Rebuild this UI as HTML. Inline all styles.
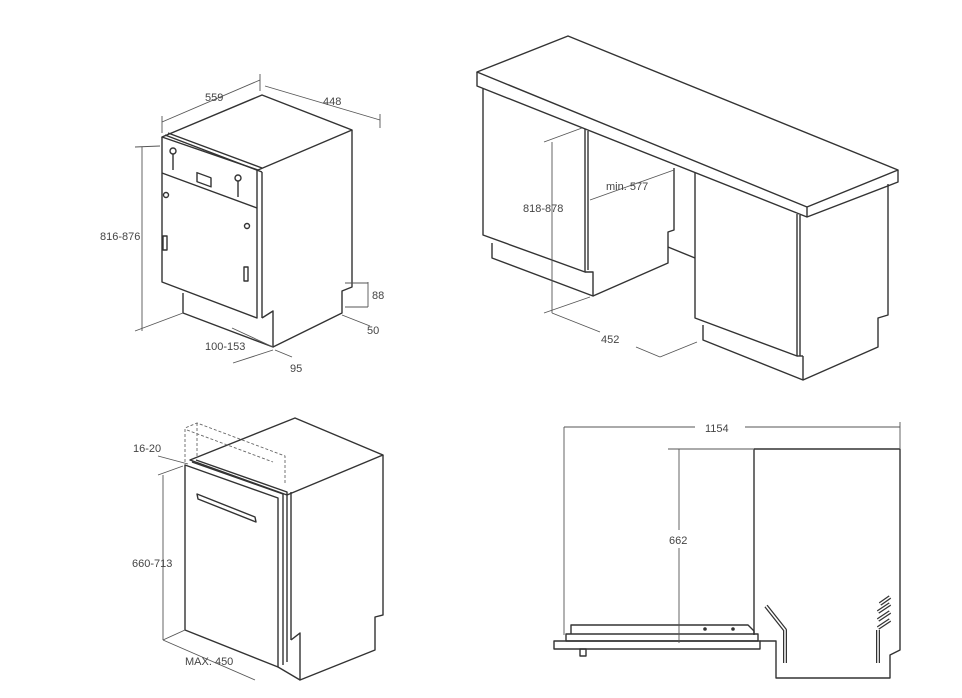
<!DOCTYPE html>
<html><head><meta charset="utf-8"><style>
html,body{margin:0;padding:0;background:#fff}
svg{display:block}
text{font-family:"Liberation Sans",sans-serif;font-size:11px;fill:#444}
</style></head><body>
<svg width="962" height="698" viewBox="0 0 962 698" xmlns="http://www.w3.org/2000/svg">
<g fill="none" stroke="#333" stroke-width="1.4" stroke-linejoin="round">
<!-- TOP LEFT dishwasher -->
<polygon points="162,137 262,95 352,130 258,170" fill="#fff"/>
<polyline points="162,137 162,282 257,318 257,170"/>
<line x1="262" y1="172" x2="262" y2="318"/>
<line x1="165" y1="135" x2="262" y2="172"/>
<line x1="168" y1="133" x2="262" y2="168"/>
<line x1="162" y1="173" x2="257" y2="208"/>
<polyline points="352,130 352,287 342,291 342,313 273,347"/>
<polyline points="183,293 183,313 273,347 273,311 262,318"/>
<circle cx="173" cy="151" r="3"/><line x1="173" y1="154" x2="173" y2="170"/>
<circle cx="238" cy="178" r="3"/><line x1="238" y1="181" x2="238" y2="197"/>
<rect x="197" y="173" width="14" height="9" transform="skewY(20) translate(0,-72)"/>
<circle cx="166" cy="195" r="2.5"/>
<circle cx="247" cy="226" r="2.5"/>
<rect x="163" y="236" width="4" height="14"/>
<rect x="244" y="267" width="4" height="14"/>
</g>
<g fill="none" stroke="#555" stroke-width="0.9">
<line x1="162" y1="122" x2="260" y2="80"/><line x1="162" y1="116" x2="162" y2="133"/><line x1="260" y1="74" x2="260" y2="91"/>
<line x1="265" y1="86" x2="380" y2="120"/><line x1="380" y1="114" x2="380" y2="128"/>
<line x1="142" y1="147" x2="142" y2="331"/><line x1="135" y1="147" x2="160" y2="146"/><line x1="135" y1="331" x2="183" y2="313"/>
<line x1="368" y1="282" x2="368" y2="307"/><line x1="345" y1="283" x2="368" y2="283"/><line x1="345" y1="307" x2="368" y2="307"/>
<line x1="342" y1="315" x2="370" y2="326"/>
<line x1="232" y1="328" x2="273" y2="347"/>
<line x1="233" y1="363" x2="273" y2="350"/><line x1="275" y1="350" x2="292" y2="357"/>
</g>
<text x="205" y="101">559</text>
<text x="323" y="105">448</text>
<text x="100" y="240">816-876</text>
<text x="372" y="299">88</text>
<text x="367" y="334">50</text>
<text x="205" y="350">100-153</text>
<text x="290" y="372">95</text>

<!-- TOP RIGHT counter -->
<g fill="none" stroke="#333" stroke-width="1.4" stroke-linejoin="round">
<polygon points="477,72 568,36 898,170 807,207" fill="#fff"/>
<polyline points="477,72 477,86 807,217 898,182 898,170"/>
<line x1="807" y1="207" x2="807" y2="217"/>
<polyline points="483,88 483,235 585,272 585,129"/>
<polyline points="492,243 492,258 593,296 593,272 585,272"/>
<line x1="588" y1="131" x2="588" y2="270"/>
<polyline points="674,168 674,230 668,232 668,263 593,296"/>
<line x1="668" y1="247" x2="695" y2="258"/>
<polyline points="695,173 695,318 797,356 797,214"/>
<line x1="800" y1="215" x2="800" y2="356"/>
<polyline points="703,325 703,340 803,380 878,347 878,318 888,315 888,184"/>
<line x1="797" y1="356" x2="803" y2="356"/><line x1="803" y1="356" x2="803" y2="380"/>
</g>
<g fill="none" stroke="#555" stroke-width="0.9">
<line x1="552" y1="142" x2="552" y2="313"/><line x1="544" y1="142" x2="582" y2="128"/><line x1="544" y1="313" x2="590" y2="297"/>
<line x1="590" y1="200" x2="674" y2="170"/>
<line x1="552" y1="313" x2="600" y2="332"/><line x1="636" y1="347" x2="660" y2="357"/>
<line x1="660" y1="357" x2="697" y2="342"/>
</g>
<text x="523" y="212">818-878</text>
<text x="606" y="190">min. 577</text>
<text x="601" y="343">452</text>

<!-- BOTTOM LEFT -->
<g fill="none" stroke="#333" stroke-width="1.4" stroke-linejoin="round">
<polygon points="190,460 295,418 383,455 287,495" fill="#fff"/>
<polygon points="185,465 278,498 278,667 185,630" fill="#fff"/>
<polyline points="192,462 283,494 283,665"/>
<polyline points="196,460 287,492 287,662"/>
<line x1="291" y1="492" x2="291" y2="640"/>
<polyline points="383,455 383,615 375,617 375,650 300,680 300,633 291,640"/>
<line x1="278" y1="667" x2="300" y2="680"/>
<polygon points="197,494 255,517 256,522 198,499"/>
</g>
<g fill="none" stroke="#666" stroke-width="0.9" stroke-dasharray="3,2">
<polyline points="185,462 185,428 197,423 285,456 285,485"/>
<line x1="197" y1="423" x2="197" y2="458"/>
<line x1="187" y1="430" x2="273" y2="462"/>
</g>
<g fill="none" stroke="#555" stroke-width="0.9">
<line x1="163" y1="475" x2="163" y2="640"/><line x1="158" y1="475" x2="183" y2="466"/>
<line x1="158" y1="456" x2="188" y2="464"/>
<line x1="163" y1="640" x2="255" y2="680"/><line x1="163" y1="640" x2="185" y2="630"/>
</g>
<text x="133" y="452">16-20</text>
<text x="132" y="567">660-713</text>
<text x="185" y="665">MAX. 450</text>

<!-- BOTTOM RIGHT -->
<g fill="none" stroke="#333" stroke-width="1.4" stroke-linejoin="round">
<polyline points="754,635 754,449 900,449 900,650 890,655 890,678 776,678 776,641 760,641"/>
<rect x="554" y="641" width="206" height="8"/>
<rect x="566" y="634" width="192" height="7"/>
<polyline points="571,634 571,625 748,625 754,631 754,634"/>
<rect x="580" y="649" width="6" height="7"/>
<polyline points="766,606 785,630 785,663" stroke-width="4"/>
<polyline points="766,606 785,630 785,663" stroke="#fff" stroke-width="1.5"/>
<polyline points="878,663 878,630" stroke-width="4"/>
<polyline points="878,663 878,630" stroke="#fff" stroke-width="1.5"/>
<g stroke-width="4"><polyline points="878,628 890,620"/><polyline points="878,620 890,612"/><polyline points="878,612 890,604"/><polyline points="880,604 890,597"/></g>
<g stroke="#fff" stroke-width="1.5"><polyline points="878,628 890,620"/><polyline points="878,620 890,612"/><polyline points="878,612 890,604"/><polyline points="880,604 890,597"/></g>
</g>
<circle cx="705" cy="629" r="1.8" fill="#333"/><circle cx="733" cy="629" r="1.8" fill="#333"/>
<g fill="none" stroke="#555" stroke-width="0.9">
<line x1="564" y1="427" x2="564" y2="635"/>
<line x1="564" y1="427" x2="695" y2="427"/><line x1="745" y1="427" x2="900" y2="427"/>
<line x1="900" y1="422" x2="900" y2="448"/>
<line x1="668" y1="449" x2="753" y2="449"/>
<line x1="679" y1="449" x2="679" y2="530"/><line x1="679" y1="548" x2="679" y2="643"/>
</g>
<text x="705" y="432">1154</text>
<text x="669" y="544">662</text>
</svg>
</body></html>
